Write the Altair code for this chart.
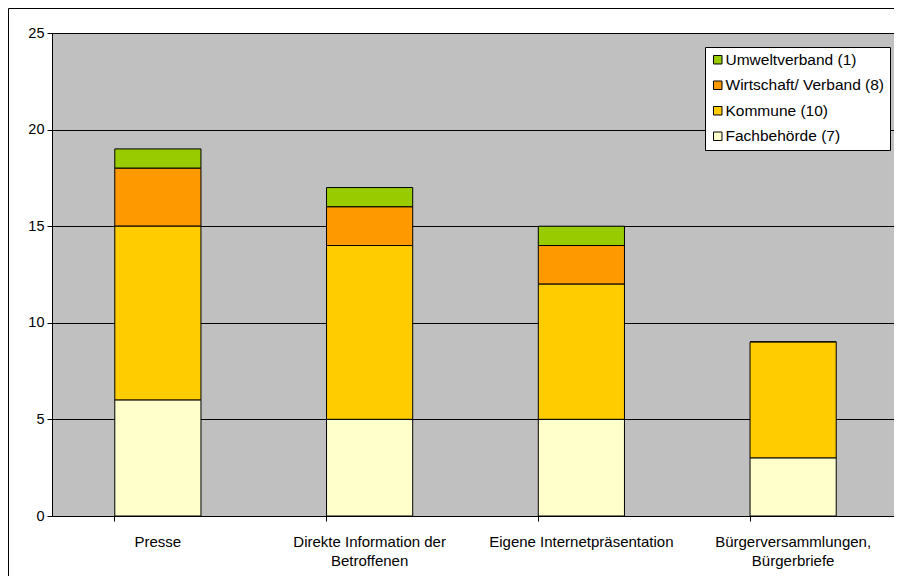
import altair as alt
import pandas as pd

categories = [
    "Presse",
    "Direkte Information der|Betroffenen",
    "Eigene Internetpräsentation",
    "Bürgerversammlungen,|Bürgerbriefe",
]
series = ["Umweltverband (1)", "Wirtschaft/ Verband (8)", "Kommune (10)", "Fachbehörde (7)"]
colors = ["#99CC00", "#FF9900", "#FFCC00", "#FFFFCC"]
stack_order = [3, 2, 1, 0]

umweltverband = [1, 1, 1, 0]
wirtschaft = [3, 2, 2, 0]
kommune = [9, 9, 7, 6]
fachbehoerde = [6, 5, 5, 3]

values = [umweltverband, wirtschaft, kommune, fachbehoerde]
rows = []
for s, vals, o in zip(series, values, stack_order):
    for c, v in zip(categories, vals):
        rows.append({"Kategorie": c, "Gruppe": s, "Wert": v, "ord": o})
df = pd.DataFrame(rows)

FONT = "Liberation Sans"
W, H = 847, 483

bars = alt.Chart(df).mark_bar(stroke="black", strokeWidth=1).encode(
    x=alt.X(
        "Kategorie:N",
        sort=categories,
        title=None,
        scale=alt.Scale(paddingInner=0.593, paddingOuter=0.2965),
        axis=alt.Axis(
            labelAngle=0,
            labelExpr="split(datum.label, '|')",
            bandPosition=0,
            tickSize=5,
            tickColor="black",
            domainColor="black",
            labelPadding=13,
            labelFontSize=15,
            labelLineHeight=19.5,
            labelColor="black",
            labelFont=FONT,
            labelBaseline="top",
            labelLimit=400,
        ),
    ),
    y=alt.Y(
        "Wert:Q",
        stack="zero",
        title=None,
        scale=alt.Scale(domain=[0, 25], nice=False),
        axis=alt.Axis(
            values=[0, 5, 10, 15, 20, 25],
            grid=True,
            gridColor="black",
            gridWidth=1,
            tickSize=5,
            tickColor="black",
            domainColor="black",
            labelPadding=3,
            labelFontSize=14.5,
            labelColor="black",
            labelFont=FONT,
        ),
    ),
    color=alt.Color(
        "Gruppe:N",
        scale=alt.Scale(domain=series, range=colors),
        legend=alt.Legend(
            title=None,
            orient="none",
            legendX=653,
            legendY=14,
            fillColor="white",
            strokeColor="black",
            padding=5,
            rowPadding=8.5,
            symbolType="square",
            symbolSize=72,
            symbolStrokeColor="black",
            symbolStrokeWidth=1,
            symbolOpacity=1,
            labelFontSize=15.5,
            labelFont=FONT,
            labelColor="black",
            labelOffset=0,
            labelLimit=300,
        ),
    ),
    order=alt.Order("ord:Q", sort="ascending"),
)

border = alt.Chart(alt.Data(values=[{"a": 1}])).mark_rect(
    filled=False, stroke="black", strokeWidth=1
).encode(
    x=alt.value(-43.5),
    x2=alt.value(W + 60),
    y=alt.value(-24.5),
    y2=alt.value(H + 120),
)

chart = alt.layer(bars, border).properties(
    width=W,
    height=H,
    autosize=alt.AutoSizeParams(type="none"),
    padding={"left": 44, "top": 25, "right": -5, "bottom": 60},
    background="white",
).configure_view(
    fill="#C0C0C0", stroke="#808080", strokeWidth=1
)

chart.save("out.html", embed_options={"renderer": "svg", "actions": False})
